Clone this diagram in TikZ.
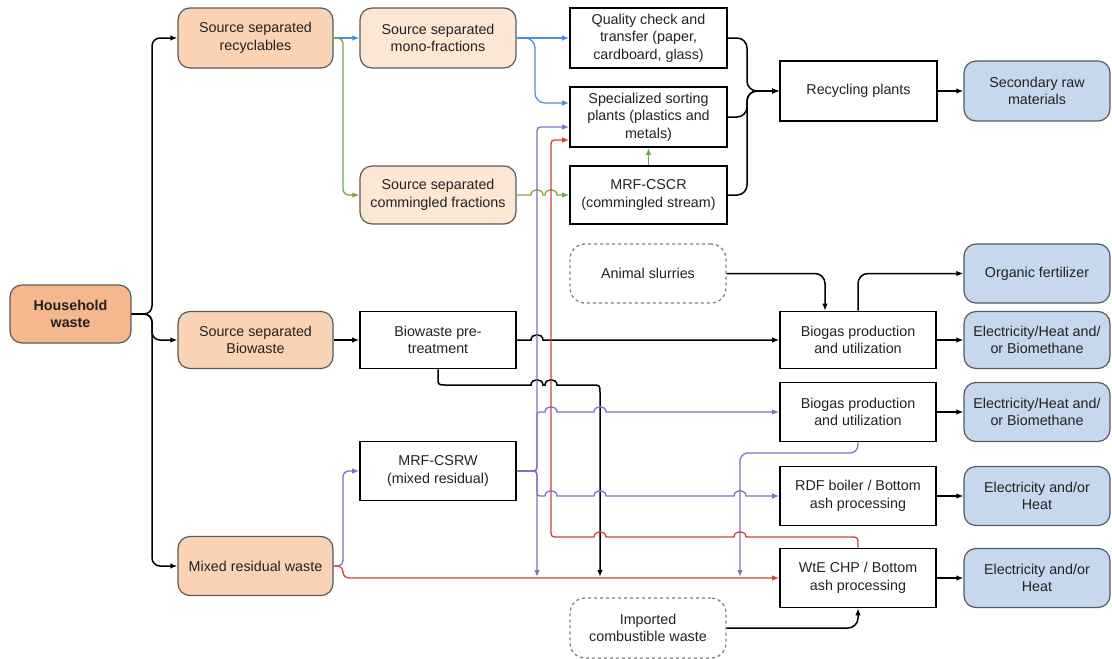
\documentclass[tikz,border=0pt]{standalone}
\usepackage{fontspec}
\setmainfont{Liberation Sans}
\usetikzlibrary{arrows.meta,calc}
\definecolor{hwfill}{HTML}{F5B78E}
\definecolor{orfill}{HTML}{F9D3B4}
\definecolor{ltfill}{HTML}{FCE6D4}
\definecolor{bufill}{HTML}{C6D7EE}
\definecolor{bordgray}{HTML}{5A5A5A}
\definecolor{dashgray}{HTML}{808080}
\definecolor{txt}{HTML}{222222}
\definecolor{lblue}{HTML}{4A8EDC}
\definecolor{lgreen}{HTML}{76A844}
\definecolor{lpurp}{HTML}{8A6CC4}
\definecolor{lred}{HTML}{C8463C}
\begin{document}
\begin{tikzpicture}[x=1pt,y=-1pt,
  every node/.style={font=\fontsize{14.3pt}{17.5pt}\selectfont, text=txt, align=center, inner sep=0pt},
  rbox/.style={draw=bordgray, line width=1.2pt, rounded corners=12pt, fill=#1, minimum width=155pt, minimum height=59pt},
  bbox/.style={draw=bordgray, line width=1.2pt, rounded corners=12pt, fill=bufill, minimum width=146pt, minimum height=59pt},
  sbox/.style={draw=black, line width=1.6pt, fill=white, minimum width=156pt, minimum height=58pt},
  dbox/.style={draw=dashgray, dashed, line width=1.3pt, rounded corners=15pt, minimum width=156pt, minimum height=59pt},
  arr/.style={-{Latex[length=7pt,width=5.5pt]}},
  arrs/.style={{Latex[length=7pt,width=5.5pt]}-},
  blk/.style={draw=black, line width=1.5pt},
  bl/.style={draw=lblue, line width=1.3pt},
  gr/.style={draw=lgreen, line width=1.3pt},
  pu/.style={draw=lpurp, line width=1.3pt},
  rd/.style={draw=lred, line width=1.3pt},
  hopx/.style args={#1/#2}{insert path={-- ({#1-6},{#2}) .. controls ({#1-6},{#2-7}) and ({#1+6},{#2-7}) .. ({#1+6},{#2})}}
]
\fill[white] (0,0) rectangle (1112,659);
\useasboundingbox (0,0) rectangle (1112,659);

% nodes
\node[rbox=hwfill, minimum width=121pt, minimum height=58pt, font=\fontsize{14.3pt}{17.5pt}\selectfont\bfseries] (hw) at (70.5,314) {Household\\waste};
\node[rbox=orfill, minimum height=60pt] (rec) at (255.5,38) {Source separated\\recyclables};
\node[rbox=orfill, minimum height=57pt] (bio) at (255.5,340) {Source separated\\Biowaste};
\node[rbox=orfill] (mix) at (255.5,566) {Mixed residual waste};
\node[rbox=ltfill, minimum width=156pt, minimum height=60pt] (mono) at (438,38) {Source separated\\mono-fractions};
\node[rbox=ltfill, minimum width=156pt, minimum height=58pt] (comm) at (438,195) {Source separated\\commingled fractions};
\node[sbox, minimum width=157pt, minimum height=60pt] (qc) at (648.5,38) {Quality check and\\transfer (paper,\\cardboard, glass)};
\node[sbox, minimum width=157pt, minimum height=60pt] (spec) at (648.5,117) {Specialized sorting\\plants (plastics and\\metals)};
\node[sbox, minimum width=157pt] (cscr) at (648.5,195) {MRF-CSCR\\(commingled stream)};
\node[sbox, minimum width=157pt, minimum height=60pt] (rp) at (858.5,91) {Recycling plants};
\node[bbox, minimum height=60pt] (srm) at (1037,91) {Secondary raw\\materials};
\node[dbox] (as) at (648,273.5) {Animal slurries};
\node[sbox, minimum height=57pt] (pre) at (438,340) {Biowaste pre-\\treatment};
\node[sbox, minimum height=57pt] (bg1) at (858,340) {Biogas production\\and utilization};
\node[bbox] (of) at (1037,273.5) {Organic fertilizer};
\node[bbox, minimum height=57pt] (e1) at (1037,340) {Electricity/Heat and/\\or Biomethane};
\node[sbox, minimum height=59pt] (bg2) at (858,412) {Biogas production\\and utilization};
\node[bbox] (e2) at (1037,412) {Electricity/Heat and/\\or Biomethane};
\node[sbox, minimum height=59pt] (csrw) at (438,471) {MRF-CSRW\\(mixed residual)};
\node[sbox, minimum height=59pt] (rdf) at (858,496) {RDF boiler / Bottom\\ash processing};
\node[bbox] (e3) at (1037,496) {Electricity and/or\\Heat};
\node[sbox, minimum height=59pt] (wte) at (858,578) {WtE CHP / Bottom\\ash processing};
\node[bbox] (e4) at (1037,578) {Electricity and/or\\Heat};
\node[dbox, minimum height=60pt] (icw) at (648,628) {Imported\\combustible waste};

\coordinate (dropA) at (537,577);
\coordinate (dropB) at (600,577);
\coordinate (dropC) at (740,577);

% household waste branches
\draw[blk,arr,rounded corners=8pt] (hw.east) -- (152,314) -- (152,38) -- (rec.west);
\draw[blk,arr,rounded corners=8pt] (hw.east) -- (152,314) -- (152,340) -- (bio.west);
\draw[blk,arr,rounded corners=8pt] (hw.east) -- (152,314) -- (152,566) -- (mix.west);

% recyclables
\draw[bl,arr] (rec.east) -- (mono.west);
\draw[bl,arr] (mono.east) -- (qc.west);
\draw[bl,arr,rounded corners=10pt] (mono.east) -- (535,38) -- (535,103) -- ($(spec.west)+(0,-14)$);
\draw[gr,arr,rounded corners=6pt] (rec.east) -- (343,38) -- (343,195) -- (comm.west);
\draw[gr,arr] (comm.east) [hopx=537/195] [hopx=551/195] -- (cscr.west);
\draw[gr,arr] (cscr.north) -- (spec.south);

% to recycling plants
\draw[blk,arr,rounded corners=10pt] (qc.east) -- (747,38) -- (747,91) -- (rp.west);
\draw[blk,arr,rounded corners=10pt] (spec.east) -- (747,117) -- (747,91) -- (rp.west);
\draw[blk,arr,rounded corners=10pt] (cscr.east) -- (747,195) -- (747,91) -- (rp.west);
\draw[blk,arr] (rp.east) -- (srm.west);

% biowaste
\draw[blk,arr] (bio.east) -- (pre.west);
\draw[blk,arr] (pre.east) [hopx=537/340] -- (bg1.west);
\draw[blk,arr] (pre.south) -- (438,377) .. controls (438,385) .. (446,385) [hopx=537/385] [hopx=551/385] -- (592,385) .. controls (600,385) .. (600,393) -- (dropB);
\draw[blk,arr,rounded corners=10pt] (as.east) -| ($(bg1.north)+(-33,0)$);
\draw[blk,arr,rounded corners=10pt] (bg1.north) |- (of.west);
\draw[blk,arr] (bg1.east) -- (e1.west);
\draw[blk,arr] (bg2.east) -- (e2.west);
\draw[blk,arr] (rdf.east) -- (e3.west);
\draw[blk,arr] (wte.east) -- (e4.west);
\draw[blk,arr,rounded corners=10pt] (icw.east) -| (wte.south);

% mixed residual
\draw[pu,arr,rounded corners=6pt] (mix.east) -- (343,566) -- (343,471) -- (csrw.west);
\draw[rd,arr,rounded corners=6pt] (mix.east) -- (343,566) -- (343,578) -- (wte.west);
\draw[pu,arr] (csrw.east) -- (529,471) .. controls (537,471) .. (537,463) -- (537,135) .. controls (537,127) .. (545,127) -- ($(spec.west)+(0,10)$);
\draw[pu,arr] (csrw.east) -- (529,471) .. controls (537,471) .. (537,479) -- (dropA);
\draw[pu,arr] (csrw.east) -- (529,471) .. controls (537,471) .. (537,463) -- (537,418) .. controls (537,412) .. (543,412) [hopx=551/412] [hopx=600/412] -- (bg2.west);
\draw[pu,arr] (csrw.east) -- (529,471) .. controls (537,471) .. (537,479) -- (537,490) .. controls (537,496) .. (543,496) [hopx=551/496] [hopx=600/496] [hopx=740/496] -- (rdf.west);
\draw[pu,arr,rounded corners=8pt] (bg2.south) -- (858,453) -- (740,453) -- (dropC);
\draw[rd,arrs] ($(spec.west)+(0,23)$) -- (559,140) .. controls (551,140) .. (551,148) -- (551,529) .. controls (551,537) .. (559,537) [hopx=600/537] [hopx=740/537] -- (850,537) .. controls (858,537) .. (858,545) -- (wte.north);
\end{tikzpicture}
\end{document}
